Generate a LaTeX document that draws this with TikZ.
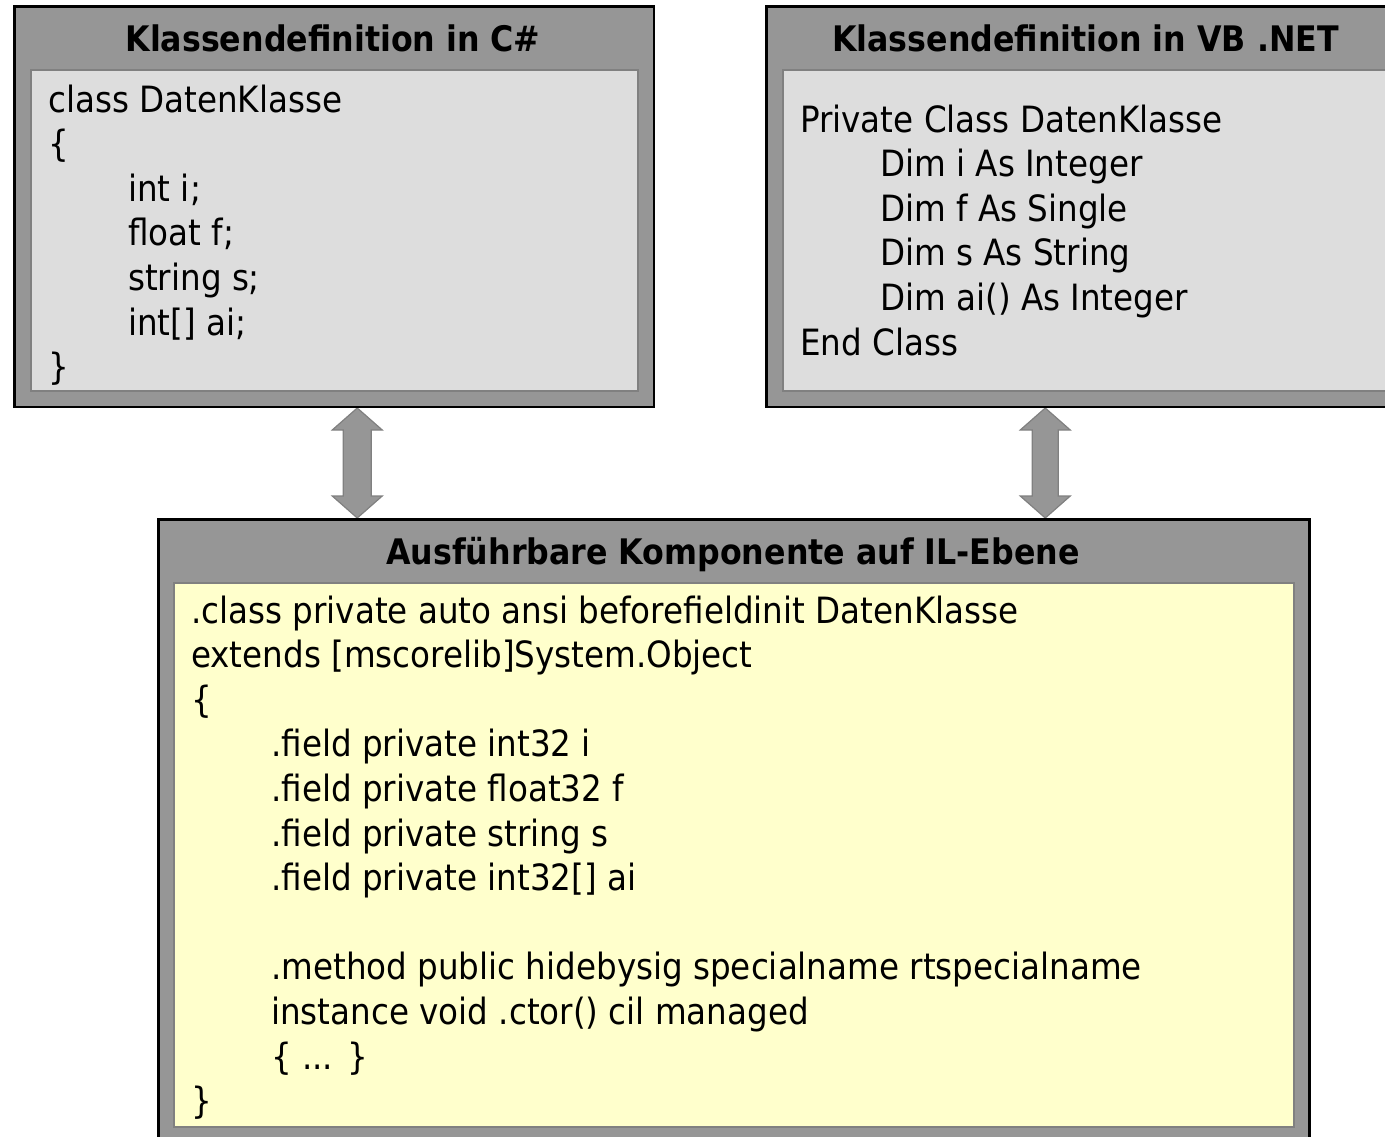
\documentclass[tikz,border=0pt]{standalone}
\usepackage{fontspec}
\setmainfont{DejaVu Sans Condensed}
\usetikzlibrary{calc,backgrounds}
\definecolor{outergray}{HTML}{969696}
\definecolor{innergray}{HTML}{DDDDDD}
\definecolor{edgegray}{HTML}{808080}
\definecolor{codeyellow}{HTML}{FFFFCC}
\newcommand{\ind}{\hspace*{80pt}}
\begin{document}
\begin{tikzpicture}[x=1pt,y=-1pt,
  outerbox/.style={draw=black, line width=2.5pt, fill=outergray, rectangle, inner sep=0pt, anchor=north west},
  innerbox/.style={draw=edgegray, line width=2pt, fill=innergray, rectangle, inner sep=0pt, anchor=north west},
  titletext/.style={inner sep=0pt, anchor=base, font={\fontsize{35.2}{40}\selectfont\bfseries}},
  codetext/.style={inner sep=0pt, anchor=base west, align=left, font={\fontsize{36.2}{44.6}\selectfont}},
  dblarrow/.style={draw=edgegray, line width=1.2pt, fill=outergray, line join=miter}
]
\useasboundingbox (0,0) rectangle (1385,1137);
\clip (0,0) rectangle (1385,1137);

% C# box
\node[outerbox, minimum width=639.5, minimum height=400] (cs) at (13.25,5.5) {};
\node[innerbox, minimum width=607, minimum height=320] (csin) at (29.5,69.5) {};
\node[titletext] (cstitle) at (333,52) {Klassendefinition in C\#};
% anchor base = baseline of the last line
\node[codetext] (cscode) at (48,379.6) {class DatenKlasse\\
\{\\
\ind int i;\\
\ind float f;\\
\ind string s;\\
\ind int[] ai;\\
\}};

% VB box
\node[outerbox, minimum width=639.5, minimum height=400] (vb) at (765.25,5.5) {};
\node[innerbox, minimum width=607, minimum height=320] (vbin) at (781.5,69.5) {};
\node[titletext] (vbtitle) at (1085.5,52) {Klassendefinition in VB .NET};
\node[codetext] (vbcode) at (800,355) {Private Class DatenKlasse\\
\ind Dim i As Integer\\
\ind Dim f As Single\\
\ind Dim s As String\\
\ind Dim ai() As Integer\\
End Class};

% IL box
\node[outerbox, minimum width=1151, minimum height=623.5] (il) at (157.25,518) {};
\node[innerbox, fill=codeyellow, minimum width=1120, minimum height=543.5] (ilin) at (172.5,582) {};
\node[titletext] (iltitle) at (733,564) {Ausführbare Komponente auf IL-Ebene};
\node[codetext] (ilcode) at (191,1113.6) {.class private auto ansi beforefieldinit DatenKlasse\\
extends [mscorelib]System.Object\\
\{\\
\ind .field private int32 i\\
\ind .field private float32 f\\
\ind .field private string s\\
\ind .field private int32[] ai\\[44.6pt]
\ind .method public hidebysig specialname rtspecialname\\
\ind instance void .ctor() cil managed\\
\ind \{ ... \}\\
\}};

% double arrows
\coordinate (aLtop) at ($(cs.south west)+(344,0)$);
\coordinate (aLbot) at ($(il.north west)+(200,0)$);
\coordinate (aRtop) at ($(vb.south west)+(280,0)$);
\coordinate (aRbot) at ($(il.north west)+(888,0)$);
\begin{pgfonlayer}{background}
\draw[dblarrow] (aLtop) -- ++(25,22) -- ++(-11,0) -- ($(aLbot)+(14,-22)$) -- ++(11,0) -- (aLbot)
  -- ++(-25,-22) -- ++(11,0) -- ($(aLtop)+(-14,22)$) -- ++(-11,0) -- cycle;
\draw[dblarrow] (aRtop) -- ++(25,22) -- ++(-12,0) -- ($(aRbot)+(13,-22)$) -- ++(12,0) -- (aRbot)
  -- ++(-25,-22) -- ++(12,0) -- ($(aRtop)+(-13,22)$) -- ++(-12,0) -- cycle;
\end{pgfonlayer}
\end{tikzpicture}
\end{document}
